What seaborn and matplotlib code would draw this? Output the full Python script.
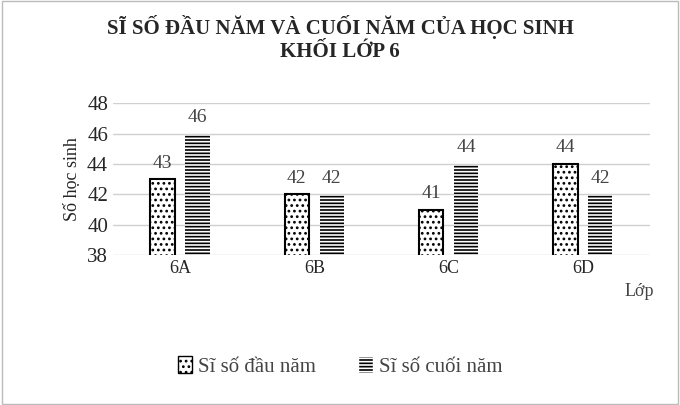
import matplotlib
matplotlib.use("Agg")
import matplotlib.pyplot as plt
import seaborn as sns
import pandas as pd
from matplotlib.patches import Rectangle

classes = ["6A", "6B", "6C", "6D"]
dau_nam = [43, 42, 41, 44]
cuoi_nam = [46, 42, 44, 42]
series = ["Sĩ số đầu năm", "Sĩ số cuối năm"]

df = pd.DataFrame({
    "Lớp": classes * 2,
    "value": dau_nam + cuoi_nam,
    "series": [series[0]] * 4 + [series[1]] * 4,
})

sns.set_style("white")
plt.rcParams["font.family"] = ["Liberation Serif", "DejaVu Serif"]
plt.rcParams["hatch.linewidth"] = 1.2

fig = plt.figure(figsize=(6.8, 4.05), dpi=100)
ax = fig.add_axes([0.166, 0.37, 0.79, 0.375])
sns.barplot(data=df, x="Lớp", y="value", hue="series", ax=ax, width=0.44,
            palette=["white", "black"], legend=False, saturation=1)

for i, p in enumerate(ax.patches[:8]):
    w = p.get_width()
    p.set_width(w * 0.82)
    if i < 4:
        p.set_hatch("...")
        p.set_edgecolor("black")
        p.set_linewidth(1.5)
    else:
        p.set_x(p.get_x() + w * 0.18)
        p.set_facecolor("black")
        p.set_hatch("-----")
        p.set_edgecolor("white")
        p.set_linewidth(0)
    h = p.get_height()
    ax.text(p.get_x() + p.get_width() / 2, h + 0.5, f"{int(h)}", ha="center",
            va="bottom", fontsize=14, color="#444444")

ax.set_ylim(38, 48)
ax.set_yticks(range(38, 49, 2))
ax.tick_params(axis="y", labelsize=15, length=0)
ax.tick_params(axis="x", labelsize=13, length=0)
ax.yaxis.grid(True, color="#d0d0d0", linewidth=1)
ax.set_axisbelow(True)
for s in ax.spines.values():
    s.set_visible(False)
ax.set_xlabel("")
ax.set_ylabel("Số học sinh", fontsize=13)
fig.text(0.94, 0.27, "Lớp", fontsize=13, color="#444444", ha="center")

fig.text(0.5, 0.905, "SĨ SỐ ĐẦU NĂM VÀ CUỐI NĂM CỦA HỌC SINH\nKHỐI LỚP 6",
         ha="center", va="center", fontsize=15, fontweight="bold", linespacing=1.25)

h1 = Rectangle((0, 0), 1, 1, facecolor="white", edgecolor="black", hatch="...")
h2 = Rectangle((0, 0), 1, 1, facecolor="black", edgecolor="white", hatch="-----")
fig.legend([h1, h2], series, loc="center", bbox_to_anchor=(0.5, 0.095), ncol=2,
           frameon=False, fontsize=15, handlelength=0.7, handleheight=0.9,
           columnspacing=2.0, handletextpad=0.3, labelcolor="#444444")

fig.patches.append(Rectangle((0.003, 0.003), 0.994, 0.994, transform=fig.transFigure,
                             fill=False, edgecolor="#bbbbbb", linewidth=1))
fig.savefig("out.png", dpi=100)
